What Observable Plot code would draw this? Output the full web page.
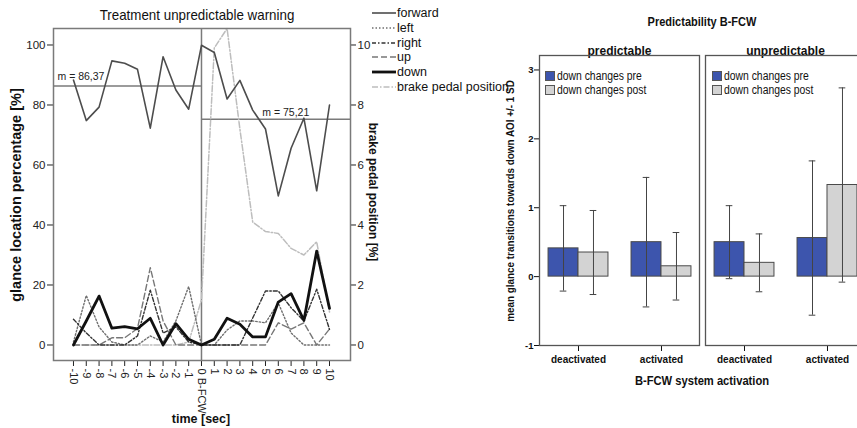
<!DOCTYPE html>
<html><head><meta charset="utf-8">
<script src="https://cdn.jsdelivr.net/npm/d3@7"></script>
<script src="https://cdn.jsdelivr.net/npm/@observablehq/plot@0.6"></script>
<style>
body{margin:0;background:#fff;}
#wrap{position:relative;width:857px;height:428px;overflow:hidden;background:#fff;}
#wrap svg{position:absolute;top:0;overflow:visible;}
.lbl{position:absolute;white-space:nowrap;color:#111;line-height:1;font-family:"Liberation Sans",Arial,sans-serif;}
</style></head><body><div id="wrap"></div>
<script>
// ---------- left chart data ----------
const time = [-10,-9,-8,-7,-6,-5,-4,-3,-2,-1,0,1,2,3,4,5,6,7,8,9,10];
const forward = [88.3,74.8,79.3,94.7,93.9,91.9,72.3,96.1,85.0,78.6,99.9,97.5,82.0,88.2,78.3,72.0,49.7,65.6,75.6,51.4,80.0];
const left = [1,16.5,6,1,0,0,3,1,8,19.5,0,0,5,8,8,7.4,14,4,0,0,0];
const right = [8.6,4,0,0,0,3,18.3,4,6,1,0,0,0,0,9,18,18,12.4,8,18.6,5.2];
const up = [0,0,0,2.4,2.4,5.5,25.8,8,0,0,0,0,0,0,0,0,7.4,5.3,7.4,0,5.3];
const down = [0,8,16.3,5.6,6.1,5.4,8.9,0,7.1,1.9,0,1.9,8.9,6.9,2.7,2.7,14.3,17.1,8.2,31.3,12.2];
const brake = [0,0,0,0,0,0,0,0,0,0.1,1.5,9.9,10.55,7.2,4.1,3.78,3.72,3.22,3.0,3.44,1.1]; // right axis [%]
const meanPre = 86.37, meanPost = 75.21;
const leftTicks = [0,20,40,60,80,100];
const seriesNames = ["forward","left","right","up","down","brake pedal position"];

// ---------- right chart data ----------
const predictability = ["predictable","unpredictable"];
const activation = ["deactivated","activated"];
const phases = ["down changes pre","down changes post"];
const barPred = ["predictable","predictable","predictable","predictable","unpredictable","unpredictable","unpredictable","unpredictable"];
const barAct = ["deactivated","deactivated","activated","activated","deactivated","deactivated","activated","activated"];
const barPhase = ["down changes pre","down changes post","down changes pre","down changes post","down changes pre","down changes post","down changes pre","down changes post"];
const barMean = [0.41,0.35,0.50,0.15,0.50,0.20,0.56,1.33];
const barSD = [0.62,0.61,0.94,0.49,0.53,0.42,1.12,1.41];
const rightYTicks = [-1,0,1,2,3];

const wrap = document.getElementById("wrap");
const SANS = '"Liberation Sans",Arial,sans-serif';

// ---------- left chart ----------
const styles = {
  "forward": {stroke:"#4d4d4d", strokeWidth:1.6},
  "left": {stroke:"#6f6f6f", strokeWidth:1.4, strokeDasharray:"1.5,2"},
  "right": {stroke:"#333", strokeWidth:1.4, strokeDasharray:"4,2,1.5,2"},
  "up": {stroke:"#777", strokeWidth:1.4, strokeDasharray:"6,3"},
  "down": {stroke:"#111", strokeWidth:2.8},
  "brake pedal position": {stroke:"#bdbdbd", strokeWidth:1.5, strokeDasharray:"6,2,1.5,2"}
};
const valuesBy = {"forward":forward,"left":left,"right":right,"up":up,"down":down,
  "brake pedal position":brake.map(b=>b*10)};
const rows = name => time.map((t,i)=>({t, v: valuesBy[name][i]}));
const drawOrder = ["brake pedal position","up","left","right","forward","down"];

const lp = Plot.plot({
  width: 400, height: 428,
  marginLeft: 53, marginRight: 50, marginTop: 28, marginBottom: 68,
  x: {domain: [-11.56, 11.64]},
  y: {domain: [-5.17, 105.5]},
  style: {fontFamily: SANS, fontSize: "11.5px", color: "#222", background: "transparent"},
  marks: [
    Plot.axisY({ticks: leftTicks, tickSize: 6, tickPadding: 2, label: null}),
    Plot.axisY({anchor: "right", ticks: leftTicks, tickFormat: d => String(d/10), tickSize: 5, tickPadding: 2, label: null}),
    Plot.axisX({ticks: time, tickRotate: 90, tickFormat: d => d === 0 ? "0 B-FCW" : String(d), tickSize: 6, tickPadding: 2, label: null, fontSize: 11}),
    Plot.ruleX([0], {stroke: "#7a7a7a", strokeWidth: 1.5}),
    Plot.ruleY([meanPre], {x1: -11.56, x2: 0, stroke: "#7a7a7a", strokeWidth: 1.5}),
    Plot.ruleY([meanPost], {x1: 0, x2: 11.64, stroke: "#7a7a7a", strokeWidth: 1.5}),
    ...drawOrder.map(n => Plot.line(rows(n), {x: "t", y: "v", ...styles[n]})),
    Plot.text([{x: -11.25, y: 89.5, s: "m = " + String(meanPre).replace(".", ",")},
               {x: 4.75, y: 77.5, s: "m = " + String(meanPost).replace(".", ",")}],
      {x: "x", y: "y", text: "s", textAnchor: "start", fontSize: 10.5, fill: "#222"}),
    Plot.frame({stroke: "#7a7a7a", strokeWidth: 1.5})
  ]
});
lp.style.left = "0px";
wrap.appendChild(lp);

function label(text, x, y, css, rot, k, anchorLeft) {
  const d = document.createElement("div");
  d.className = "lbl";
  d.textContent = text;
  d.style.left = x + "px"; d.style.top = y + "px";
  d.style.transformOrigin = anchorLeft ? "0 50%" : "50% 50%";
  d.style.transform = (anchorLeft ? "translate(0,-50%)" : "translate(-50%,-50%)") +
    (rot ? " rotate(" + rot + "deg)" : "") + (k ? " scaleX(" + k + ")" : "");
  Object.assign(d.style, css || {});
  wrap.appendChild(d);
  return d;
}
label("Treatment unpredictable warning", 197, 14, {fontSize: "15px"}, 0, 0.89);
label("glance location percentage [%]", 16, 195, {fontSize: "14.5px", fontWeight: "bold"}, -90);
label("brake pedal position [%]", 373, 192, {fontSize: "12px", fontWeight: "bold"}, 90);
label("time [sec]", 201, 419, {fontSize: "12.5px", fontWeight: "bold"});

// legend of left chart
const svgNS = "http://www.w3.org/2000/svg";
seriesNames.forEach((name, i) => {
  const y = 13 + i * 14.8;
  const st = styles[name];
  const s = document.createElementNS(svgNS, "svg");
  s.setAttribute("width", 24); s.setAttribute("height", 6);
  s.style.left = "372px"; s.style.top = (y - 3) + "px";
  const ln = document.createElementNS(svgNS, "line");
  ln.setAttribute("x1", 0); ln.setAttribute("x2", 24); ln.setAttribute("y1", 3); ln.setAttribute("y2", 3);
  ln.setAttribute("stroke", st.stroke); ln.setAttribute("stroke-width", st.strokeWidth);
  if (st.strokeDasharray) ln.setAttribute("stroke-dasharray", st.strokeDasharray);
  s.appendChild(ln);
  wrap.appendChild(s);
  label(name, 397, y, {fontSize: "12.5px"}, 0, 0, true);
});

// ---------- right chart ----------
const BLUE = "#3d55ad", GREY = "#d3d3d3";
const bw = 0.361;
const bars = barMean.map((m, i) => {
  const c = activation.indexOf(barAct[i]);
  const pre = barPhase[i] === phases[0];
  return {pred: barPred[i], phase: barPhase[i], mean: m, sd: barSD[i],
          x1: pre ? c - bw : c, x2: pre ? c : c + bw, xc: pre ? c - bw/2 : c + bw/2};
});
const cap = 0.04;
const rp = Plot.plot({
  width: 365, height: 428,
  marginLeft: 39, marginRight: 0, marginTop: 55, marginBottom: 83,
  fx: {domain: predictability, paddingInner: 6/166, paddingOuter: 0, axis: null},
  x: {domain: [-0.47, 1.458], axis: null},
  y: {domain: [-1, 3.21], axis: null},
  color: {domain: phases, range: [BLUE, GREY]},
  style: {fontFamily: SANS, fontSize: "10px", color: "#111", background: "transparent"},
  marks: [
    Plot.axisY({ticks: rightYTicks, tickFormat: d => String(d), tickSize: 5, tickPadding: 1, textAnchor: "end", label: null, fontWeight: "bold", fontSize: 9.5}),
    Plot.axisX({ticks: [0,1], tickFormat: i => activation[i], tickSize: 6, tickPadding: 4, label: null, fontWeight: "bold", fontSize: 10}),
    Plot.rectY(bars, {fx: "pred", x1: "x1", x2: "x2", y1: 0, y2: "mean", fill: "phase", stroke: "#4a4a4a", strokeWidth: 1}),
    Plot.ruleX(bars, {fx: "pred", x: "xc", y1: d => d.mean - d.sd, y2: d => d.mean + d.sd, stroke: "#444", strokeWidth: 1}),
    Plot.ruleY(bars, {fx: "pred", y: d => d.mean + d.sd, x1: d => d.xc - cap, x2: d => d.xc + cap, stroke: "#444", strokeWidth: 1}),
    Plot.ruleY(bars, {fx: "pred", y: d => d.mean - d.sd, x1: d => d.xc - cap, x2: d => d.xc + cap, stroke: "#444", strokeWidth: 1}),
    Plot.text(predictability, {fx: d => d, text: d => d, frameAnchor: "top", dy: -9, fontWeight: "bold", fontSize: 12}),
    Plot.frame({stroke: "#555", strokeWidth: 1.3})
  ]
});
rp.style.left = "500px";
wrap.appendChild(rp);

label("Predictability B-FCW", 702, 22, {fontSize: "12.5px", fontWeight: "bold"}, 0, 0.88);
label("mean glance transitions towards down AOI +/- 1 SD", 511, 201, {fontSize: "11.5px", fontWeight: "bold"}, -90, 0.86);
label("B-FCW system activation", 702, 380, {fontSize: "13px", fontWeight: "bold"}, 0, 0.86);

// facet legends
[545, 712].forEach(x0 => {
  phases.forEach((p, i) => {
    const y = 71 + i * 14;
    const sw = document.createElement("div");
    Object.assign(sw.style, {position: "absolute", left: x0 + "px", top: y + "px", width: "8px", height: "8px",
      background: i === 0 ? BLUE : GREY, border: "1px solid #555"});
    wrap.appendChild(sw);
    label(p, x0 + 12, y + 5, {fontSize: "12.5px"}, 0, 0.83, true);
  });
});
</script></body></html>
